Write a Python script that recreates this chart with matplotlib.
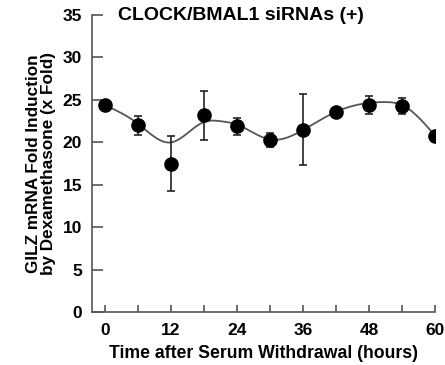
import numpy as np
import matplotlib
matplotlib.use("Agg")
import matplotlib.pyplot as plt

# 数据：时间点、均值、误差
hours = [0, 6, 12, 18, 24, 30, 36, 42, 48, 54, 60]
fold = [24.4, 22.0, 17.5, 23.2, 21.9, 20.3, 21.5, 23.6, 24.4, 24.3, 20.8]
err = [0.3, 1.1, 3.2, 2.9, 1.0, 0.8, 4.2, 0.5, 1.1, 0.9, 0.3]
# 拟合曲线（从图上读取的节点值）
fit_hours = [0, 6, 12, 18, 21, 24, 30, 36, 42, 48, 51, 54, 60]
fit_fold = [24.4, 22.2, 20.0, 22.4, 22.5, 22.1, 20.35, 21.45, 23.6, 24.65, 24.75, 24.4, 20.8]
x_ticks = [0, 12, 24, 36, 48, 60]
y_ticks = [0, 5, 10, 15, 20, 25, 30, 35]


def natural_spline(xk, yk, xs):
    # 自然三次样条，只用来把节点画成平滑曲线
    xk = np.asarray(xk, float)
    yk = np.asarray(yk, float)
    n = len(xk)
    h = np.diff(xk)
    A = np.zeros((n, n))
    b = np.zeros(n)
    A[0, 0] = A[-1, -1] = 1
    for i in range(1, n - 1):
        A[i, i - 1] = h[i - 1]
        A[i, i] = 2 * (h[i - 1] + h[i])
        A[i, i + 1] = h[i]
        b[i] = 6 * ((yk[i + 1] - yk[i]) / h[i] - (yk[i] - yk[i - 1]) / h[i - 1])
    M = np.linalg.solve(A, b)
    idx = np.clip(np.searchsorted(xk, xs) - 1, 0, n - 2)
    x0, x1 = xk[idx], xk[idx + 1]
    hh = x1 - x0
    t0, t1 = x1 - xs, xs - x0
    return (M[idx] * t0 ** 3 / (6 * hh) + M[idx + 1] * t1 ** 3 / (6 * hh)
            + (yk[idx] / hh - M[idx] * hh / 6) * t0
            + (yk[idx + 1] / hh - M[idx + 1] * hh / 6) * t1)


def main():
    plt.rcParams['font.family'] = ['Liberation Sans', 'DejaVu Sans']
    plt.rcParams['font.weight'] = 'bold'
    fig = plt.figure(figsize=(4.45, 3.65), dpi=100)
    ax = fig.add_axes([0.206, 0.1444, 0.7715, 0.8145])

    xs = np.linspace(0, 60, 400)
    ax.plot(xs, natural_spline(fit_hours, fit_fold, xs), color="#555555", lw=1.3, zorder=2)
    ax.errorbar(hours, fold, yerr=err, fmt='o', color='black', ms=9.5,
                ecolor='#222222', elinewidth=1.2, capsize=3, capthick=1.2, zorder=3)

    ax.set_xlim(-2.4, 60)
    ax.set_ylim(0, 35)
    ax.set_xticks(x_ticks)
    ax.set_xticks(np.arange(0, 61, 6), minor=True)
    ax.set_yticks(y_ticks)
    for s in ['top', 'right']:
        ax.spines[s].set_visible(False)
    for s in ['left', 'bottom']:
        ax.spines[s].set_color('#555555')
        ax.spines[s].set_linewidth(1.2)
    ax.spines['left'].set_bounds(0, 35)
    ax.tick_params(axis='y', direction='in', length=8, width=1.2, color='#555555',
                   labelsize=12.5, pad=7)
    ax.tick_params(axis='x', which='both', direction='in', length=5, width=1.2,
                   color='#555555', labelsize=12.5, pad=8)

    ax.set_xlabel("Time after Serum Withdrawal (hours)", fontsize=12.7, fontweight='bold', labelpad=5)
    ax.set_ylabel("GILZ mRNA Fold Induction\nby Dexamethasone (x Fold)", fontsize=12.3,
                  fontweight='bold', labelpad=5, linespacing=0.95)
    ax.text(2.4, 35, "CLOCK/BMAL1 siRNAs (+)", fontsize=14, fontweight='bold', va='center')

    fig.savefig("out.png", dpi=100)


if __name__ == '__main__':
    main()
